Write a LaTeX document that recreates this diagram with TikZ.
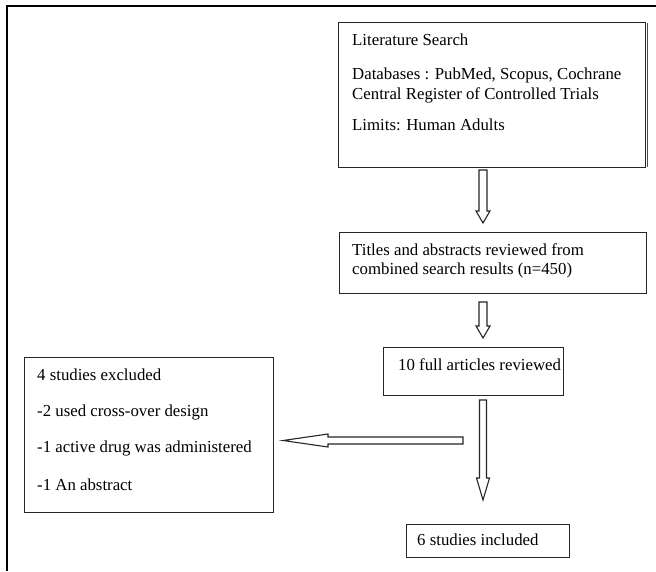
\documentclass[tikz,border=0pt]{standalone}
\usepackage{fontspec}
\setmainfont{Liberation Serif}
\usetikzlibrary{calc}
\tikzset{
  box/.style={draw=black!85, line width=1.3pt, fill=white},
  txt/.style={anchor=west, inner sep=0pt, font=\fontsize{16.8}{19}\selectfont},
  blk/.style={draw=black!85, line width=1.1pt, fill=white, line join=miter},
}
\newcommand\blockdown[5]{% x, ytop, ytip, headlen, shafthalf
  \draw[blk] (#1-#5,#2) -- (#1+#5,#2) -- (#1+#5,#3-#4) -- (#1+#5+3,#3-#4) -- (#1,#3) -- (#1-#5-3,#3-#4) -- (#1-#5,#3-#4) -- cycle;}
\begin{document}
\begin{tikzpicture}[x=1pt,y=-1pt]
\useasboundingbox (0,0) rectangle (656,571);
\fill[white] (0,0) rectangle (656,571);
% outer frame (cropped)
\draw[line width=2pt] (7,571) -- (7,6) -- (656,6);
% boxes
\node[box, minimum width=307pt, minimum height=145pt, anchor=north west, inner sep=0pt] (lit) at (338,22) {};
\draw[black!70, line width=1.2pt] (lit.north east) ++(1.5,1) -- ++(0,144);
\node[box, minimum width=307pt, minimum height=61pt, anchor=north west, inner sep=0pt] (tit) at (339,232) {};
\node[box, minimum width=180pt, minimum height=48pt, anchor=north west, inner sep=0pt] (full) at (383,347) {};
\node[box, minimum width=249pt, minimum height=155pt, anchor=north west, inner sep=0pt] (exc) at (24,357) {};
\node[box, minimum width=163pt, minimum height=33pt, anchor=north west, inner sep=0pt] (inc) at (406,524) {};
% texts
\node[txt] (t1) at (352,40) {Literature Search};
\node[txt] (t2) at (352,75) {Databases : PubMed, Scopus, Cochrane};
\node[txt] (t3) at (352,95) {Central Register of Controlled Trials};
\node[txt] (t4) at (352,125) {Limits: Human Adults};
\node[txt] (t5) at (352,250) {Titles and abstracts reviewed from};
\node[txt] (t6) at (352,270) {combined search results (n=450)};
\node[txt] (t7) at (398,365) {10 full articles reviewed};
\node[txt] (t8) at (37,375) {4 studies excluded};
\node[txt] (t9) at (37,412) {-2 used cross-over design};
\node[txt] (t10) at (37,448) {-1 active drug was administered};
\node[txt] (t11) at (37,485) {-1 An abstract};
\node[txt] (t12) at (417,540) {6 studies included};
% block arrows
\blockdown{483}{170}{223}{12}{4}
\blockdown{483}{302}{338}{12}{4}
\blockdown{483}{400}{500}{22}{3.5}
\draw[blk] (463,437) -- (328,437) -- (328,434) -- (283,440.5) -- (328,447) -- (328,444) -- (463,444) -- cycle;
\end{tikzpicture}
\end{document}
